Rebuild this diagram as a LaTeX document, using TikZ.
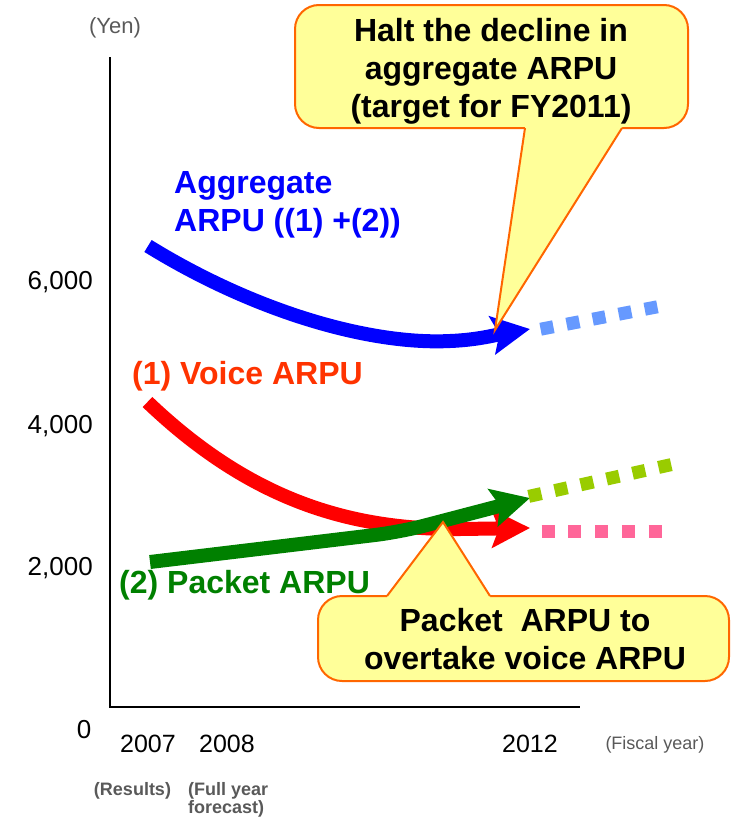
\documentclass[tikz,border=0pt]{standalone}
\usepackage{fontspec}
\setmainfont{Liberation Sans}
\usetikzlibrary{arrows.meta}

\definecolor{aggblue}{HTML}{0000FF}
\definecolor{aggproj}{HTML}{6699FF}
\definecolor{voicered}{HTML}{FF0000}
\definecolor{voicelab}{HTML}{FF3300}
\definecolor{voiceproj}{HTML}{FF6699}
\definecolor{packetgreen}{HTML}{008000}
\definecolor{packetproj}{HTML}{99CC00}
\definecolor{calloutfill}{HTML}{FFFF99}
\definecolor{calloutline}{HTML}{FF6600}
\definecolor{unitgray}{HTML}{595959}

\begin{document}
\begin{tikzpicture}[x=1pt,y=-1pt,
  lab/.style={font=\fontsize{32}{38}\selectfont\bfseries, inner sep=0pt},
  ticklab/.style={font=\fontsize{26}{30}\selectfont, inner sep=0pt},
  yearlab/.style={font=\fontsize{25}{30}\selectfont, inner sep=0pt},
  unitlab/.style={font=\fontsize{18}{22}\selectfont, text=unitgray, inner sep=0pt},
  notelab/.style={font=\fontsize{18}{18}\selectfont\bfseries, text=unitgray, inner sep=0pt},
  trend/.style={line width=14pt, -{Stealth[length=38pt,width=38pt,inset=7pt]}},
  proj/.style={line width=13pt},
  calloutbox/.style={fill=calloutfill, draw=calloutline, line width=2pt, rounded corners=24pt},
  calloutedge/.style={draw=calloutline, line width=2pt, line join=miter},
]
\useasboundingbox (0,0) rectangle (731,819);

% axes
\draw[line width=2.5pt] (110,57) -- (110,707) -- (580,707);

% value and year labels
\node[unitlab, font=\fontsize{22}{26}\selectfont, anchor=base] (yen) at (115,33) {(Yen)};
\node[ticklab, anchor=base east] (t6) at (93,289) {6,000};
\node[ticklab, anchor=base east] (t4) at (93,433) {4,000};
\node[ticklab, anchor=base east] (t2) at (93,575) {2,000};
\node[ticklab, anchor=base] (t0) at (84,738) {0};
\node[yearlab, anchor=base] (y2007) at (148,752) {2007};
\node[yearlab, anchor=base] (y2008) at (227,752) {2008};
\node[yearlab, anchor=base] (y2012) at (530,752) {2012};
\node[unitlab, anchor=base] (fiscal) at (655,749) {(Fiscal year)};
\node[notelab, anchor=base] (results) at (132.5,795) {(Results)};
\node[notelab, align=left, anchor=west] (forecast) at (188,799.5) {(Full year\\forecast)};

% trend arrows
\coordinate (aggend) at (530,329);
\coordinate (voiceend) at (530,528);
\coordinate (packetend) at (530,498);
\draw[trend, aggblue] (148,246) .. controls (255,312) and (370,345) .. (450,341)
  .. controls (478,340) and (500,334) .. (aggend);
\draw[trend, voicered] (147.5,402) .. controls (250,500) and (350,530) .. (460,529)
  -- (voiceend);
\draw[trend, packetgreen, rounded corners=25pt] (150,562) -- (400,532) -- (packetend);

% projections beyond the target year
\draw[proj, aggproj, dash pattern=on 13pt off 13.5pt] (540.6,329.2) -- (657.4,306.8);
\draw[proj, voiceproj, dash pattern=on 13pt off 13.75pt] (541.5,531) -- (661.5,531);
\draw[proj, packetproj, dash pattern=on 13pt off 13.6pt] (528.7,496.4) -- (671.3,464.6);

% series labels
\node[lab, text=aggblue, align=left, anchor=west] (agglabel) at (174,205.2) {Aggregate\\ARPU ((1) +(2))};
\node[lab, text=voicelab, anchor=base west] (voicelabel) at (132,384) {(1) Voice ARPU};
\node[lab, text=packetgreen, anchor=base west] (packetlabel) at (119,593) {(2) Packet ARPU};

% callout: halt the decline
\coordinate (haltl) at (525,128);
\coordinate (haltr) at (622,128);
\coordinate (halttip) at (495,330);
\path[calloutbox] (295,5) rectangle (688,128);
\fill[calloutfill] (halttip) -- (haltl) -- ++(0,-6) -| (haltr) -- cycle;
\draw[calloutedge] (haltl) -- (halttip) -- (haltr);
\node[lab, align=center] (halt) at (491,71.6) {Halt the decline in\\aggregate ARPU\\(target for FY2011)};

% callout: packet overtakes voice
\coordinate (overl) at (387,596);
\coordinate (overr) at (490,596);
\coordinate (overtip) at (443,522);
\path[calloutbox] (318,596) rectangle (729,681);
\fill[calloutfill] (overtip) -- (overl) -- ++(0,6) -| (overr) -- cycle;
\draw[calloutedge] (overl) -- (overtip) -- (overr);
\node[lab, align=center] (overtake) at (525,639.3) {Packet\ \ ARPU to\\overtake voice ARPU};
\end{tikzpicture}
\end{document}
